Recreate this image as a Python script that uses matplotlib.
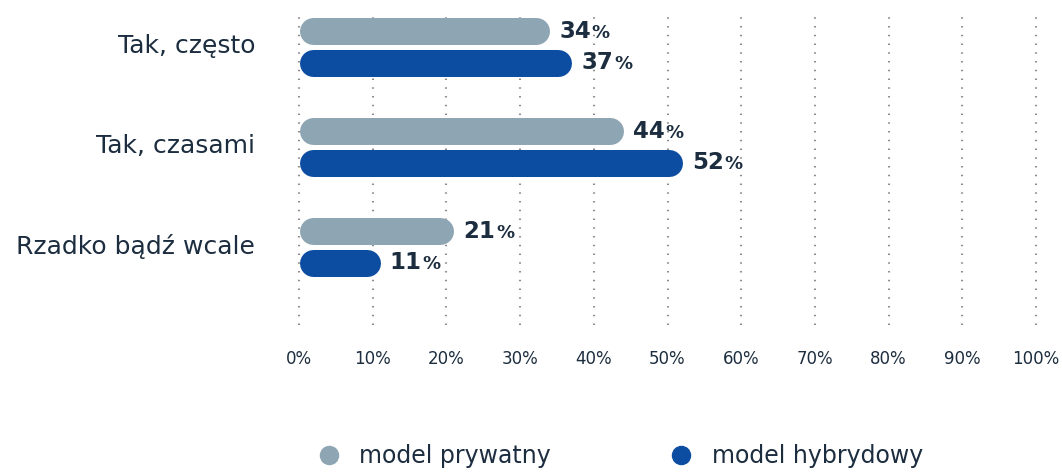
import numpy as np
import matplotlib
matplotlib.use("Agg")
import matplotlib.pyplot as plt
from matplotlib.lines import Line2D

plt.rcParams['font.family'] = ['DejaVu Sans']

categories = ["Tak, często", "Tak, czasami", "Rzadko bądź wcale"]
prywatny = [34, 44, 21]
hybrydowy = [37, 52, 11]
series_names = ["model prywatny", "model hybrydowy"]
ticks = list(range(0, 101, 10))
tick_labels = [f"{t}%" for t in ticks]

c_gray = "#8ea5b3"
c_blue = "#0d4da1"
c_text = "#1c2d3f"

W, H, DPI = 1062, 472, 100
fig = plt.figure(figsize=(W / DPI, H / DPI), dpi=DPI)
ax = fig.add_axes([299 / W, 1 - 325 / H, 737 / W, 310 / H])
ax.set_xlim(0, 100)
ax.set_ylim(2.78, -0.32)

# bar thickness in px, converted to points / data units for rounded caps
bar_px = 27
lw_pt = bar_px * 72 / DPI
r_data = (bar_px / 2) / (737 / 100)

y = np.arange(len(categories))
offs = [-0.16, 0.155]

for series, color, off in ((prywatny, c_gray, offs[0]), (hybrydowy, c_blue, offs[1])):
    for yi, v in zip(y, series):
        yy = yi + off
        ax.plot([r_data, v - r_data], [yy, yy], color=color, lw=lw_pt,
                solid_capstyle='round', zorder=3)
        t = ax.annotate(f"{v}", xy=(v, yy), xytext=(7, 0), textcoords='offset points',
                        va='center', ha='left', fontsize=16.5, fontweight='bold',
                        color=c_text, zorder=4)
        ax.annotate("%", xy=(1, 0), xycoords=t, xytext=(0.5, 0.5), textcoords='offset points',
                    va='bottom', ha='left', fontsize=13, fontweight='bold',
                    color=c_text, zorder=4)

# dotted vertical grid
for t in ticks:
    ax.axvline(t, color="#8c8c8c", lw=1.5, ls=(0, (0.7, 3.5)), zorder=1, clip_on=False)

for s in ax.spines.values():
    s.set_visible(False)
ax.set_yticks(y - 0.03)
ax.set_yticklabels(categories, fontsize=18, color=c_text)
ax.tick_params(axis='y', length=0, pad=31.5)
ax.set_xticks(ticks)
ax.set_xticklabels(tick_labels, fontsize=12, color=c_text)
ax.tick_params(axis='x', length=0, pad=18)

handles = [Line2D([], [], marker='o', ls='none', markersize=13, color=c)
           for c in (c_gray, c_blue)]
fig.legend(handles, series_names, loc='center', bbox_to_anchor=(620 / W, 1 - 456 / H),
           ncol=2, frameon=False, fontsize=17, labelcolor=c_text,
           handletextpad=0.8, columnspacing=5.0, handlelength=1.0)

fig.savefig("out.png", dpi=DPI)
